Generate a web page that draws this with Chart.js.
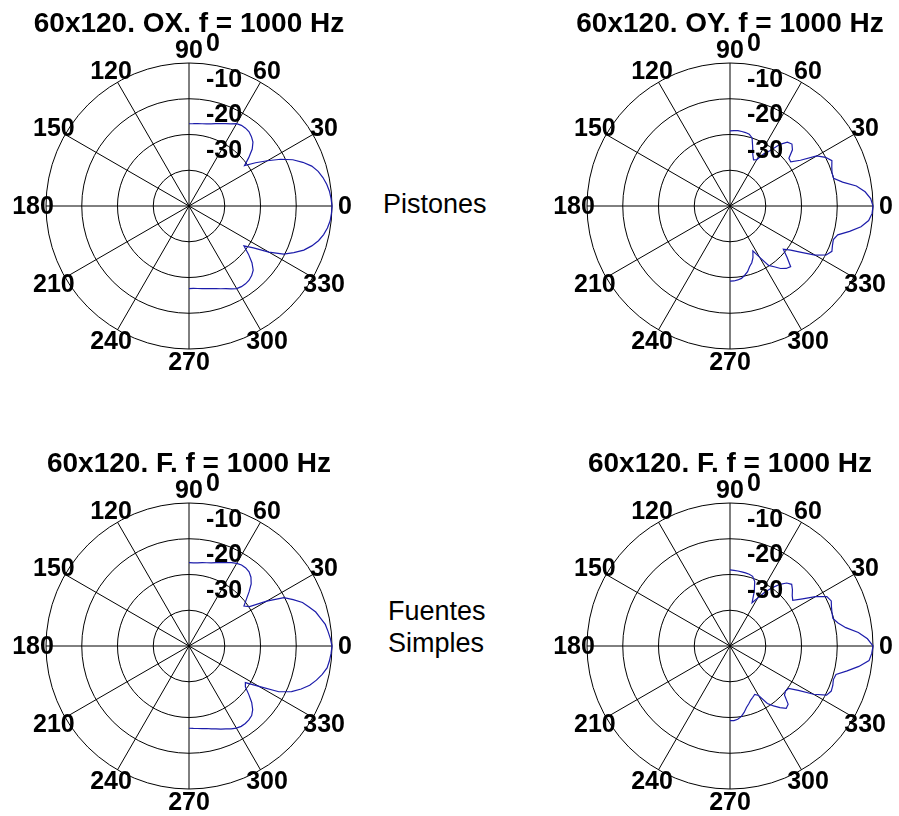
<!DOCTYPE html>
<html><head><meta charset="utf-8">
<script src="https://cdn.jsdelivr.net/npm/chart.js@4"></script>
<style>
html,body{margin:0;padding:0;background:#fff;width:899px;height:816px;overflow:hidden;}
canvas{position:absolute;}
.side{position:absolute;font-family:"Liberation Sans",Arial,sans-serif;font-size:27px;color:#000;line-height:32px;white-space:nowrap;}
</style></head><body>
<canvas id="c1" width="378" height="380" style="left:0px;top:0px"></canvas>
<canvas id="c2" width="378" height="380" style="left:541px;top:0px"></canvas>
<canvas id="c3" width="378" height="380" style="left:0px;top:440px"></canvas>
<canvas id="c4" width="378" height="380" style="left:541px;top:440px"></canvas>
<div class="side" style="left:383px;top:188px">Pistones</div>
<div class="side" style="left:388px;top:595px">Fuentes<br>Simples</div>
<script>
// angles (degrees) at which each pattern was read, -90 .. 90
const thetaDeg = [-90,-87,-84,-81,-78,-75,-72,-69,-66,-63,-60,-57,-54,-51,-48,-45,-42,-39,-36,-33,-30,-27,-24,-21,-18,-15,-12,-9,-6,-3,
  0,3,6,9,12,15,18,21,24,27,30,33,36,39,42,45,48,51,54,57,60,63,66,69,72,75,78,81,84,87,90];

// level in dB
const pistonOX = [-16.9,-16.9,-16.8,-16.6,-16.4,-16.1,-15.7,-15.2,-14.7,-14.0,-13.3,-13.1,-13.1,-13.3,-13.8,-14.6,-16.3,-18.6,-21.0,-18.5,-14.2,-10.3,-7.9,-5.6,-3.9,-2.5,-1.5,-0.8,-0.3,-0.1,
  0,-0.2,-0.5,-1.0,-1.7,-2.6,-3.9,-5.9,-8.2,-11.2,-14.7,-17.8,-20.8,-18.5,-16.2,-14.7,-13.9,-13.3,-13.1,-13.1,-13.4,-14.2,-14.8,-15.3,-15.8,-16.2,-16.5,-16.7,-16.8,-16.95,-17.0];
const pistonOY = [-19.0,-19.0,-19.2,-19.5,-20.2,-21.0,-22.2,-23.0,-24.2,-25.9,-23.5,-20.2,-19.0,-17.5,-16.5,-16.0,-18.5,-20.8,-19.0,-16.2,-12.5,-9.8,-8.8,-9.3,-9.6,-8.8,-5.8,-2.9,-1.0,-0.2,
  0,-0.6,-2.0,-4.2,-7.8,-10.0,-10.0,-9.5,-8.8,-10.0,-12.0,-16.5,-19.0,-18.8,-16.5,-15.5,-16.0,-17.8,-20.8,-22.6,-25.0,-25.5,-24.3,-22.3,-20.0,-19.2,-19.0,-18.9,-18.8,-18.9,-19.0];
const simpleOX = [-17.0,-16.9,-16.8,-16.6,-16.4,-16.0,-15.6,-15.1,-14.6,-14.0,-13.5,-13.2,-13.2,-13.4,-13.8,-14.8,-16.4,-18.5,-20.5,-21.2,-17.4,-11.8,-8.6,-6.4,-4.5,-3.1,-1.9,-0.9,-0.5,-0.2,
  0,-0.4,-0.9,-1.4,-2.4,-3.3,-4.7,-6.0,-8.1,-10.2,-14.9,-19.8,-21.0,-19.4,-17.4,-15.4,-14.1,-13.3,-13.0,-13.0,-13.3,-13.8,-14.5,-15.0,-15.5,-15.9,-16.2,-16.4,-16.6,-16.7,-16.7];
const simpleOY = [-19.1,-19.1,-19.4,-20.0,-21.0,-22.2,-23.0,-23.8,-24.3,-24.8,-24.0,-20.8,-19.3,-17.8,-16.5,-17.0,-19.5,-20.0,-19.8,-17.2,-13.0,-9.7,-9.0,-9.2,-9.6,-9.3,-6.5,-3.5,-0.9,-0.3,
  0,-1.5,-3.9,-7.2,-9.1,-10.2,-10.0,-9.6,-9.0,-9.6,-12.4,-15.8,-18.3,-17.6,-16.5,-15.6,-16.3,-17.8,-19.8,-22.0,-24.5,-26.4,-23.3,-20.7,-19.5,-19.2,-19.1,-19.0,-18.9,-18.8,-18.7];

const titles = ['60x120. OX. f = 1000 Hz','60x120. OY. f = 1000 Hz','60x120. F. f = 1000 Hz','60x120. F. f = 1000 Hz'];
const angleTickLabels = ['0','30','60','90','120','150','180','210','240','270','300','330'];
const radialTickValues = [0,-10,-20,-30];
const radialTickLabels = ['0','-10','-20','-30'];

const STEP = 3;                 // degrees per radar slot
const SLOTS = 360 / STEP;
// slot i sits at MATLAB angle (360 - STEP*i) mod 360 (radar runs clockwise)
const slotAngles = Array.from({length: SLOTS}, (_, i) => (360 - STEP * i) % 360);

function toSlots(series) {
  return slotAngles.map(a => {
    const t = a > 180 ? a - 360 : a;
    const k = thetaDeg.indexOf(t);
    return k >= 0 ? series[k] : null;
  });
}

const LABEL_FONT = 'bold 25px "Liberation Sans", Arial, sans-serif';

const polarText = {
  id: 'polarText',
  afterDraw(chart) {
    const s = chart.scales.r, ctx = chart.ctx;
    ctx.save();
    ctx.fillStyle = '#000';
    ctx.font = LABEL_FONT;
    ctx.textAlign = 'center';
    ctx.textBaseline = 'middle';
    angleTickLabels.forEach(t => {
      const th = Number(t);
      const idx = ((360 - th) % 360) / STEP;
      const p = s.getPointPosition(idx, s.drawingArea + 13);
      ctx.fillText(t, p.x, p.y + 1);
    });
    ctx.textAlign = 'left';
    radialTickValues.forEach((v, k) => {
      const d = s.getDistanceFromCenterForValue(v);
      ctx.fillText(radialTickLabels[k], s.xCenter + 17, s.yCenter - d - 19);
    });
    ctx.restore();
  }
};

function makeChart(id, title, series) {
  const isSpoke = c => c.index % (30 / STEP) === 0;
  return new Chart(document.getElementById(id), {
    type: 'radar',
    data: {
      labels: slotAngles.map(String),
      datasets: [{
        data: toSlots(series),
        borderColor: '#1c1caa',
        borderWidth: 1.2,
        fill: false,
        pointRadius: 0,
        pointHoverRadius: 0,
        tension: 0,
        spanGaps: false
      }]
    },
    options: {
      responsive: false,
      animation: false,
      devicePixelRatio: 1,
      events: [],
      layout: { padding: { left: 0, right: 0, top: 0, bottom: 31 } },
      plugins: {
        legend: { display: false },
        tooltip: { enabled: false },
        title: {
          display: true, text: title, color: '#000',
          font: { family: '"Liberation Sans", Arial, sans-serif', size: 28, weight: 'bold' },
          padding: { top: 7, bottom: 22.4 }
        }
      },
      scales: {
        r: {
          min: -40, max: 0, startAngle: 90,
          ticks: { display: false, stepSize: 10 },
          pointLabels: { display: false },
          grid: { circular: true, color: '#000', lineWidth: 1 },
          angleLines: {
            display: true,
            color: c => isSpoke(c) ? '#000' : 'rgba(0,0,0,0)',
            lineWidth: c => isSpoke(c) ? 1 : 0
          }
        }
      }
    },
    plugins: [polarText]
  });
}

makeChart('c1', titles[0], pistonOX);
makeChart('c2', titles[1], pistonOY);
makeChart('c3', titles[2], simpleOX);
makeChart('c4', titles[3], simpleOY);
</script>
</body></html>
